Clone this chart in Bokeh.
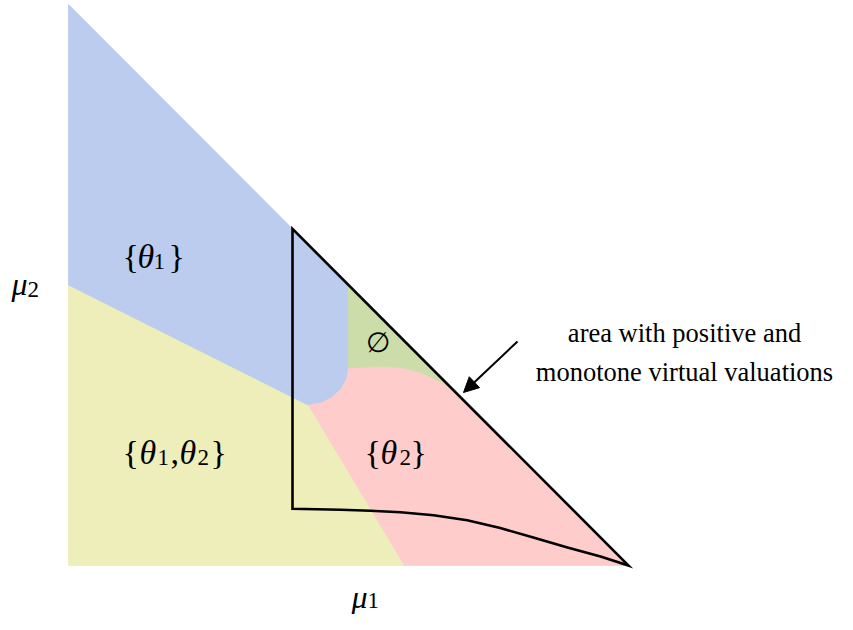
from bokeh.plotting import figure
from bokeh.models import Range1d, Arrow, NormalHead
from bokeh.core.properties import value
from bokeh.embed import file_html
from bokeh.resources import INLINE

# ---------------- data ----------------
# region boundaries inside the simplex mu1 + mu2 <= 1
blue_yellow_x = [0.0, 0.4286]
blue_yellow_y = [0.5, 0.2857]
yellow_pink_x = [0.4286, 0.6]
yellow_pink_y = [0.2857, 0.0]
blue_pink_x = [0.4286, 0.452, 0.470, 0.487, 0.497, 0.5]
blue_pink_y = [0.2857, 0.290, 0.299, 0.315, 0.333, 0.352]
green_pink_x = [0.5, 0.521, 0.557, 0.593, 0.629, 0.659, 0.682, 0.708]
green_pink_y = [0.352, 0.353, 0.355, 0.353, 0.344, 0.330, 0.316, 0.292]
hyp_top = [0.0, 1.0]
hyp_bottom = [1.0, 0.0]
blue_green_top = [0.5, 0.5]

# outline of the area with positive and monotone virtual valuations
mono_x = [0.40, 0.40, 0.486, 0.539, 0.593, 0.652, 0.712, 0.771, 0.830, 0.891, 0.950, 1.0]
mono_y = [0.60, 0.101, 0.0995, 0.0977, 0.0948, 0.0897, 0.0806, 0.0668, 0.0499, 0.0321, 0.016, 0.0]

annotation_lines = ["area with positive and", "monotone virtual valuations"]

colors = {"blue": "#BBCCEE", "yellow": "#EEEEBB", "pink": "#FFCCCC", "green": "#CCDDAA"}

# ---------------- figure ----------------
p = figure(width=837, height=614, output_backend="svg", toolbar_location=None,
           x_range=Range1d(-0.12143, 1.37321), y_range=Range1d(-0.08734, 1.00713),
           x_axis_location=None, y_axis_location=None, min_border=0,
           background_fill_color="white", border_fill_color="white")
p.outline_line_color = None
p.grid.visible = False

# polygons built from the boundaries
blue_x = [hyp_top[0]] + blue_yellow_x + blue_pink_x[1:] + [blue_green_top[0]]
blue_y = [hyp_top[1]] + blue_yellow_y + blue_pink_y[1:] + [blue_green_top[1]]
yellow_x = [0.0] + blue_yellow_x + yellow_pink_x[1:]
yellow_y = [0.0] + blue_yellow_y + yellow_pink_y[1:]
pink_x = yellow_pink_x[::-1] + blue_pink_x[1:] + green_pink_x[1:] + [hyp_bottom[0]]
pink_y = yellow_pink_y[::-1] + blue_pink_y[1:] + green_pink_y[1:] + [hyp_bottom[1]]
green_x = [blue_green_top[0]] + green_pink_x
green_y = [blue_green_top[1]] + green_pink_y

for xs, ys, c in [(yellow_x, yellow_y, colors["yellow"]), (blue_x, blue_y, colors["blue"]),
                  (pink_x, pink_y, colors["pink"]), (green_x, green_y, colors["green"])]:
    p.patch(xs, ys, fill_color=c, line_color=c, line_width=0.8)

# black outline
p.patch(mono_x + [mono_x[0]], mono_y + [mono_y[0]], fill_color=None,
        line_color="black", line_width=2.6, line_join="miter")

# arrow
p.add_layout(Arrow(end=NormalHead(size=15, fill_color="black", line_color="black", line_width=1),
                   x_start=0.8018, y_start=0.3993, x_end=0.7054, y_end=0.3084,
                   line_color="black", line_width=2))

FONT = value("Liberation Serif")


def seg(x, y, txt, dx=0, dy=0, size="34px", style="normal", align="left", baseline="alphabetic"):
    p.text(x=[x], y=[y], text=[txt], x_offset=dx, y_offset=dy, text_font=FONT,
           text_font_size=size, text_font_style=style, text_align=align,
           text_baseline=baseline, text_color="black")


SUB = "23px"
# {theta_1}
x0, y0 = 0.0964, 0.5508
seg(x0, y0, "{", 0)
seg(x0, y0, "θ", 15, style="italic")
seg(x0, y0, "1", 31, 5, size=SUB)
seg(x0, y0, "}", 46)
# {theta_1, theta_2}
x0, y0 = 0.0964, 0.2014
seg(x0, y0, "{", 0)
seg(x0, y0, "θ", 17, style="italic")
seg(x0, y0, "1", 35, 5, size=SUB)
seg(x0, y0, ",", 48)
seg(x0, y0, "θ", 57, style="italic")
seg(x0, y0, "2", 75, 5, size=SUB)
seg(x0, y0, "}", 88)
# {theta_2}
x0, y0 = 0.5286, 0.2014
seg(x0, y0, "{", 0)
seg(x0, y0, "θ", 16, style="italic")
seg(x0, y0, "2", 35, 5, size=SUB)
seg(x0, y0, "}", 46)
# empty set
seg(0.5518, 0.3975, "∅", 0, size="28px", align="center", baseline="middle")
# axis labels mu_2, mu_1
x0, y0 = -0.1018, 0.5009
seg(x0, y0, "μ", 0, size="32px", style="italic")
seg(x0, y0, "2", 16, 5, size=SUB)
x0, y0 = 0.5054, -0.056
seg(x0, y0, "μ", 0, size="32px", style="italic")
seg(x0, y0, "1", 16, 4, size=SUB)

# annotation
for line, yb in zip(annotation_lines, [0.4153, 0.3458]):
    seg(1.10, yb, line, 0, size="26.5px", align="center")

open("out.html", "w").write(file_html(p, INLINE))
